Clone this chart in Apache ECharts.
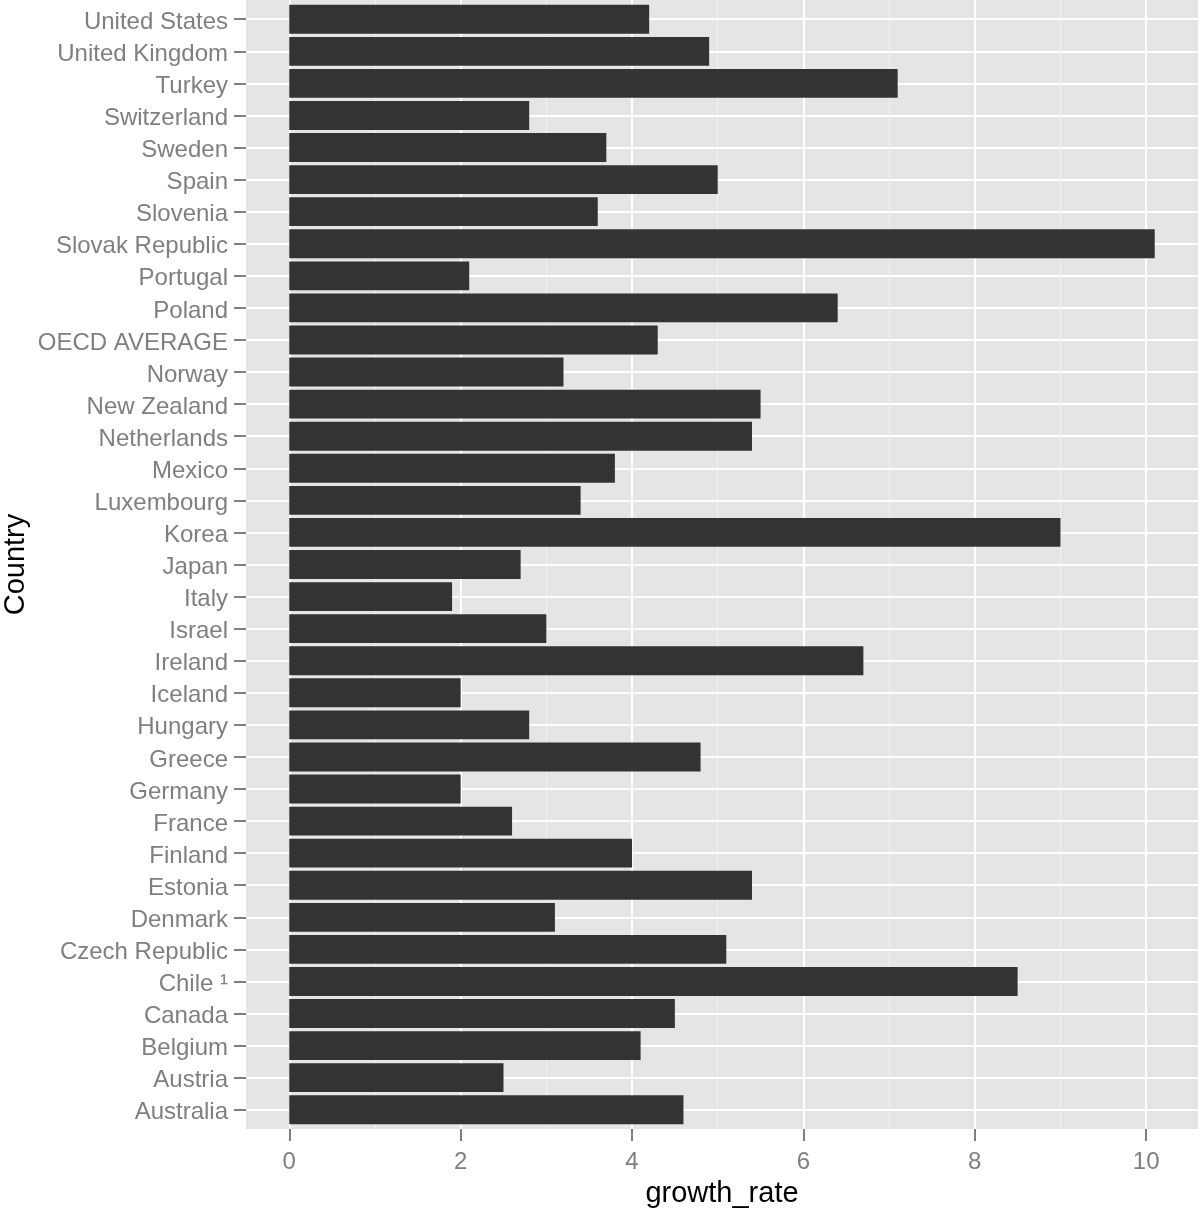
<!DOCTYPE html>
<html>
<head>
<meta charset="utf-8">
<script src="https://cdn.jsdelivr.net/npm/echarts@6/dist/echarts.min.js"></script>
<style>
html,body{margin:0;padding:0;background:#fff;}
#chart{width:1200px;height:1211px;}
</style>
</head>
<body>
<div id="chart"></div>
<script>
// Data (top to bottom as in the picture)
const countries = ['United States','United Kingdom','Turkey','Switzerland','Sweden','Spain','Slovenia','Slovak Republic','Portugal','Poland','OECD AVERAGE','Norway','New Zealand','Netherlands','Mexico','Luxembourg','Korea','Japan','Italy','Israel','Ireland','Iceland','Hungary','Greece','Germany','France','Finland','Estonia','Denmark','Czech Republic','Chile \u00b9','Canada','Belgium','Austria','Australia'];
const growthRate = [4.2,4.9,7.1,2.8,3.7,5.0,3.6,10.1,2.1,6.4,4.3,3.2,5.5,5.4,3.8,3.4,9.0,2.7,1.9,3.0,6.7,2.0,2.8,4.8,2.0,2.6,4.0,5.4,3.1,5.1,8.5,4.5,4.1,2.5,4.6];
const xTickMin = 0, xTickMax = 10, xTickStep = 2;
const xLabel = 'growth_rate';
const yLabel = 'Country';

// Layout (ggplot-like panel with expansion)
const panelLeft = 246, panelRight = 1198, panelTop = 0, panelBottom = 1129;
const dataMax = Math.max(...growthRate);
const xExp = 0.05 * (dataMax - 0);
const xMin = 0 - xExp, xMax = dataMax + xExp;
const pxX = (panelRight - panelLeft) / (xMax - xMin);
const nCat = countries.length;
const catUnits = (nCat - 1) + 1.2;
const pxY = (panelBottom - panelTop) / catUnits;

const gridTickLeft = panelLeft + (xTickMin - xMin) * pxX;
const gridTickRight = panelLeft + (xTickMax - xMin) * pxX;
const barGridTop = panelTop + 0.6 * pxY;
const barGridHeight = (nCat - 1) * pxY;

const FONT = '"Liberation Sans", Arial, sans-serif';
const grey50 = '#7F7F7F';

const chart = echarts.init(document.getElementById('chart'), null, {renderer: 'canvas'});
chart.setOption({
  animation: false,
  backgroundColor: '#ffffff',
  grid: [
    { // panel background
      z: -1, show: true, backgroundColor: '#E5E5E5', borderWidth: 0, outerBoundsMode: 'none', containLabel: false,
      left: panelLeft, top: panelTop, width: panelRight - panelLeft, height: panelBottom - panelTop
    },
    { // x ticks / vertical grid lines
      show: false, outerBoundsMode: 'none', containLabel: false,
      left: gridTickLeft, top: panelTop, width: gridTickRight - gridTickLeft, height: panelBottom - panelTop
    },
    { // bars + categories
      show: false, outerBoundsMode: 'none', containLabel: false,
      left: panelLeft, top: barGridTop, width: panelRight - panelLeft, height: barGridHeight
    }
  ],
  xAxis: [
    {
      gridIndex: 0, type: 'value', min: xMin, max: xMax, show: true,
      name: xLabel, nameLocation: 'middle', nameGap: 50, nameMoveOverlap: false,
      nameTextStyle: {color: '#000', fontSize: 29, fontFamily: FONT},
      axisLine: {show: false}, axisTick: {show: false}, axisLabel: {show: false}, splitLine: {show: false}
    },
    {
      gridIndex: 1, type: 'value', min: xTickMin, max: xTickMax, interval: xTickStep,
      axisLine: {show: false, onZero: false},
      axisTick: {show: true, length: 12, lineStyle: {color: grey50, width: 2}},
      axisLabel: {color: grey50, fontSize: 24, fontFamily: FONT, margin: 21},
      splitLine: {show: true, lineStyle: {color: '#FFFFFF', width: 2}},
      minorTick: {show: false, splitNumber: 2},
      minorSplitLine: {show: true, lineStyle: {color: '#F2F2F2', width: 1}}
    },
    { gridIndex: 2, type: 'value', min: xMin, max: xMax, show: false }
  ],
  yAxis: [
    { gridIndex: 0, type: 'value', show: false },
    { gridIndex: 1, type: 'value', show: false },
    {
      gridIndex: 2, type: 'category', data: countries, inverse: true, boundaryGap: false,
      name: yLabel, nameLocation: 'middle', nameGap: 216, nameRotate: 90, nameMoveOverlap: false,
      nameTextStyle: {color: '#000', fontSize: 29, fontFamily: FONT},
      axisLine: {show: false, onZero: false},
      axisTick: {show: true, length: 12, lineStyle: {color: grey50, width: 2}},
      axisLabel: {color: grey50, fontSize: 24, fontFamily: FONT, margin: 18, interval: 0,
                  verticalAlign: 'top', lineHeight: 6},
      splitLine: {show: true, interval: 0, lineStyle: {color: '#FFFFFF', width: 2}}
    }
  ],
  series: [{
    type: 'bar',
    xAxisIndex: 2, yAxisIndex: 2,
    data: growthRate,
    barWidth: '90%',
    clip: false,
    itemStyle: {color: '#333333'},
    z: 3
  }]
});
</script>
</body>
</html>
